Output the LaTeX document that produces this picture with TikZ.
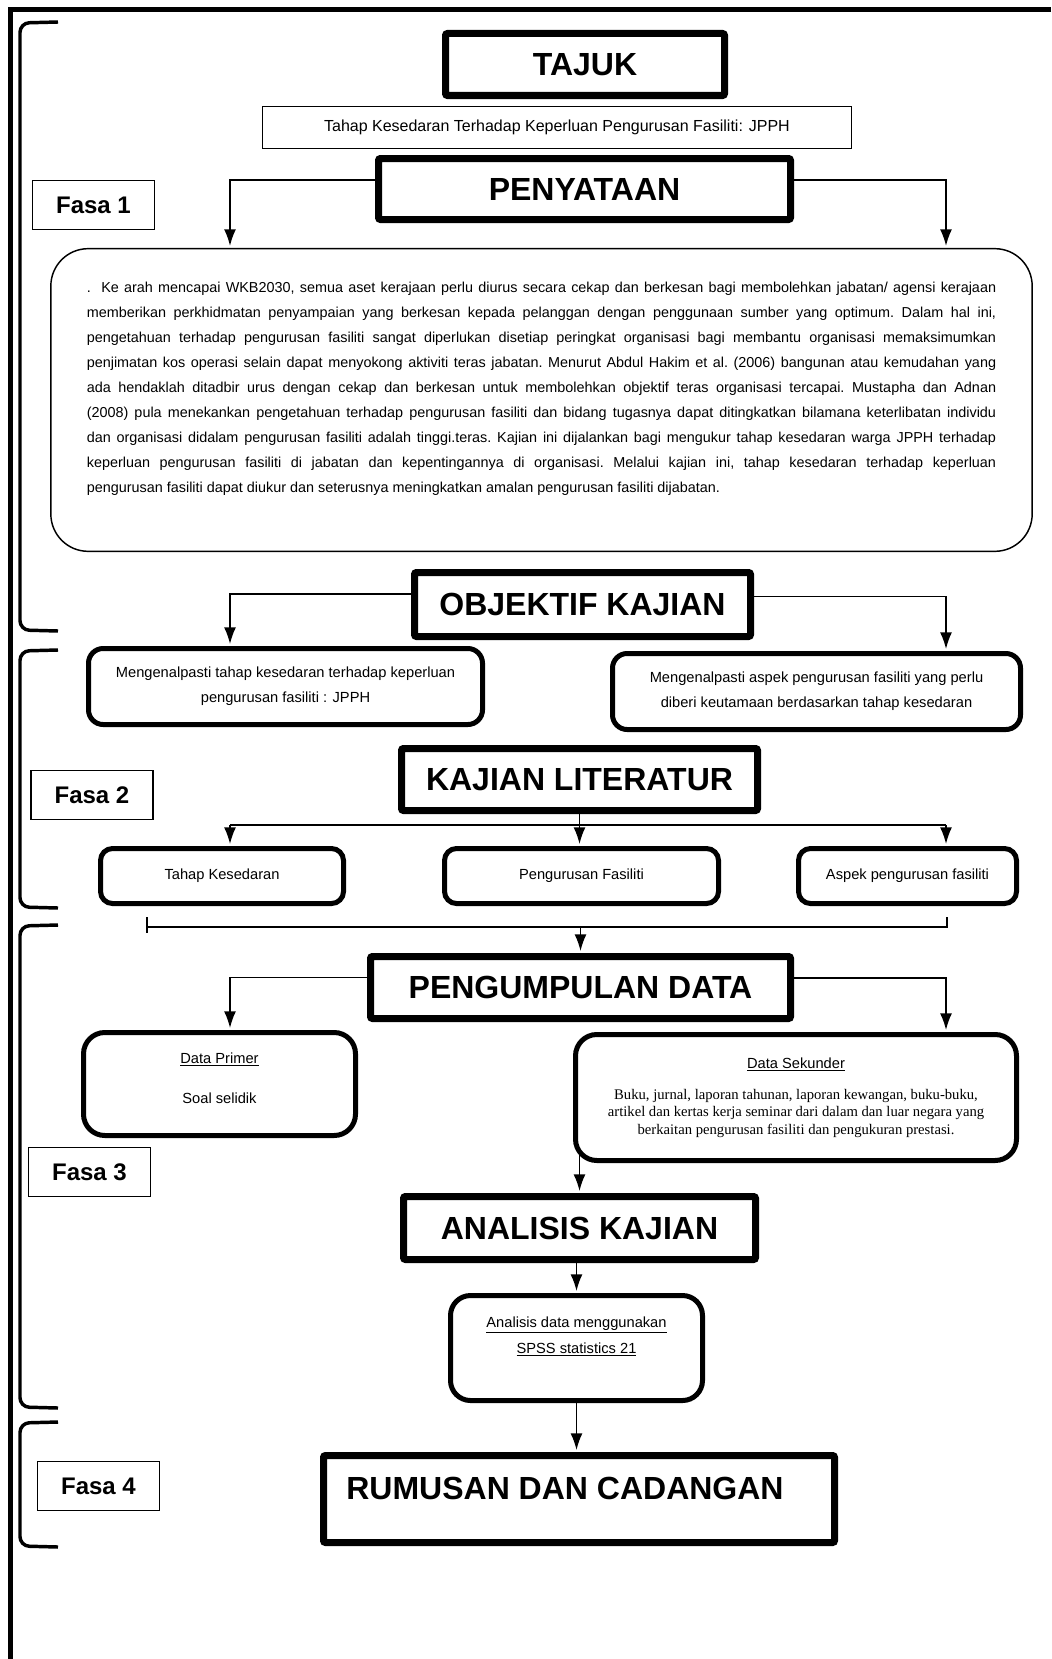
\documentclass[tikz,border=0pt]{standalone}
\usepackage{fontspec}
\setmainfont{Liberation Sans}
\newfontfamily\timesfont{Liberation Serif}
\usetikzlibrary{arrows.meta}

\tikzset{
  headbox/.style={rectangle, draw, line width=5.25pt, rounded corners=1.5pt, fill=white, inner sep=0pt,
    font=\bfseries\fontsize{24}{28}\selectfont},
  roundbox/.style={rectangle, draw, line width=3.75pt, rounded corners=11pt, fill=white, inner sep=0pt,
    align=center, font=\fontsize{11}{18.75}\selectfont},
  fasabox/.style={rectangle, draw, line width=0.9pt, fill=white, inner sep=0pt,
    minimum width=91.5pt, minimum height=36.75pt, font=\bfseries\fontsize{18}{22}\selectfont},
  conn/.style={line width=1.2pt},
  arr/.style={conn, -{Latex[length=12.5pt,width=9pt]}, shorten >=1.5pt},
  frameline/.style={line width=3.75pt},
  bracketline/.style={line width=2.6pt, rounded corners=7pt},
}

\begin{document}
\begin{tikzpicture}[x=0.75pt, y=-0.75pt]
    \useasboundingbox (0,0) rectangle (1051,1659);

    % page frame and phase brackets
    \draw[frameline] (1051,10) -- (10,10) -- (10,1659);
    \draw[bracketline] (58,22) -- (20,23) -- (20,630) -- (58,631);
    \draw[bracketline] (58,650) -- (20,651) -- (20,907) -- (58,908);
    \draw[bracketline] (58,925) -- (20,926) -- (20,1407) -- (58,1408);
    \draw[bracketline] (58,1422) -- (20,1423) -- (20,1546) -- (58,1547);

    \coordinate (lanel) at (230,0);
    \coordinate (laner) at (946,0);

    % Fasa 1
    \node[headbox, minimum width=209.25pt, minimum height=46.5pt] (tajuk) at (585,64.5) {TAJUK};
    \node[rectangle, draw, line width=0.9pt, inner sep=0pt, minimum width=441.75pt, minimum height=31.5pt,
        font=\fontsize{12}{14}\selectfont] (tajukteks) at (557,127.5) {Tahap Kesedaran Terhadap Keperluan Pengurusan Fasiliti: JPPH};
    \node[headbox, minimum width=309pt, minimum height=45.75pt] (penyataan) at (584.5,189) {PENYATAAN};
    \node[fasabox] (fasa1) at (93.5,205) {Fasa 1};
    \node[rectangle, draw, line width=1.1pt, rounded corners=28pt, inner sep=0pt, minimum width=736pt, minimum height=227pt,
        text width=682pt, align=justify, font=\fontsize{10.8}{18.75}\selectfont] (intro) at (541.5,400)
        {\frenchspacing\hyphenpenalty=10000 \exhyphenpenalty=10000 \mbox{.}\ \ Ke arah mencapai WKB2030, semua aset kerajaan perlu diurus secara cekap dan berkesan bagi membolehkan jabatan/ agensi kerajaan\linebreak
        memberikan perkhidmatan penyampaian yang berkesan kepada pelanggan dengan penggunaan sumber yang optimum. Dalam hal ini,\linebreak
        pengetahuan terhadap pengurusan fasiliti sangat diperlukan disetiap peringkat organisasi bagi membantu organisasi memaksimumkan\linebreak
        penjimatan kos operasi selain dapat menyokong aktiviti teras jabatan. Menurut Abdul Hakim et al. (2006) bangunan atau kemudahan yang\linebreak
        ada hendaklah ditadbir urus dengan cekap dan berkesan untuk membolehkan objektif teras organisasi tercapai. Mustapha dan Adnan\linebreak
        (2008) pula menekankan pengetahuan terhadap pengurusan fasiliti dan bidang tugasnya dapat ditingkatkan bilamana keterlibatan individu\linebreak
        dan organisasi didalam pengurusan fasiliti adalah tinggi.teras. Kajian ini dijalankan bagi mengukur tahap kesedaran warga JPPH terhadap\linebreak
        keperluan pengurusan fasiliti di jabatan dan kepentingannya di organisasi. Melalui kajian ini, tahap kesedaran terhadap keperluan\linebreak
        pengurusan fasiliti dapat diukur dan seterusnya meningkatkan amalan pengurusan fasiliti dijabatan.\par\mbox{}};

    \node[headbox, minimum width=252pt, minimum height=48pt] (objektif) at (582.5,604.5) {OBJEKTIF KAJIAN};

    % Fasa 2
    \node[roundbox, minimum width=295.5pt, minimum height=57pt] (obj1) at (285.5,686.5)
        {Mengenalpasti tahap kesedaran terhadap keperluan\\pengurusan fasiliti : JPPH};
    \node[roundbox, minimum width=306pt, minimum height=57pt] (obj2) at (816.5,691.5)
        {Mengenalpasti aspek pengurusan fasiliti yang perlu\\diberi keutamaan berdasarkan tahap kesedaran};
    \node[headbox, minimum width=267pt, minimum height=46.5pt] (kajianlit) at (579.5,779.5) {KAJIAN LITERATUR};
    \node[fasabox] (fasa2) at (92,795) {Fasa 2};
    \node[roundbox, rounded corners=9pt, minimum width=182.25pt, minimum height=41.25pt] (lit1) at (222,876) {Tahap Kesedaran};
    \node[roundbox, rounded corners=9pt, minimum width=205.5pt, minimum height=41.25pt] (lit2) at (581.5,876) {Pengurusan Fasiliti};
    \node[roundbox, rounded corners=9pt, minimum width=163.5pt, minimum height=41.25pt] (lit3) at (907.5,876) {Aspek pengurusan fasiliti};

    % Fasa 3
    \node[headbox, minimum width=315pt, minimum height=46.5pt] (pengumpulan) at (580.5,987.5) {PENGUMPULAN DATA};
    \node[roundbox, rounded corners=16pt, minimum width=204pt, minimum height=77.25pt] (primer) at (219.5,1084)
        {\underline{Data Primer}\\[11.25pt]Soal selidik\\[-10pt]\mbox{}};
    \node[roundbox, rounded corners=16pt, minimum width=330.75pt, minimum height=94.5pt,
        font=\fontsize{11}{13.1}\selectfont] (sekunder) at (796,1097.5)
        {\underline{Data Sekunder}\\[10.15pt]
        \timesfont Buku, jurnal, laporan tahunan, laporan kewangan, buku-buku,\\
        \timesfont artikel dan kertas kerja seminar dari dalam dan luar negara yang\\
        \timesfont berkaitan pengurusan fasiliti dan pengukuran prestasi.};
    \node[fasabox] (fasa3) at (89.5,1172) {Fasa 3};
    \node[headbox, minimum width=264pt, minimum height=47.25pt] (analisis) at (579.5,1228) {ANALISIS KAJIAN};
    \node[roundbox, rounded corners=15pt, minimum width=189pt, minimum height=78.75pt,
        font=\fontsize{11}{19.5}\selectfont] (spss) at (576.5,1348)
        {\underline{Analisis data menggunakan}\\\underline{SPSS statistics 21}\\\mbox{}};

    % Fasa 4
    \node[fasabox] (fasa4) at (98.5,1486) {Fasa 4};
    \node[headbox, minimum width=383.25pt, minimum height=65.25pt] (rumusan) at (579,1499) {};
    \node[font=\bfseries\fontsize{24}{28}\selectfont, inner sep=0pt] (rumusanteks) at (565,1488) {RUMUSAN DAN CADANGAN};

    % connectors
    \draw[arr] ([yshift=6.75pt]penyataan.west) -| (lanel |- intro.north);
    \draw[arr] ([yshift=6.75pt]penyataan.east) -| (laner |- intro.north);
    \draw[arr] ([yshift=8pt]objektif.west) -| (lanel |- obj1.north);
    \draw[arr] ([yshift=6pt]objektif.east) -| (laner |- obj2.north);

    \coordinate (litbus) at (580,825);
    \draw[arr] (kajianlit.south) -- (kajianlit.south |- lit2.north);
    \draw[conn] (litbus -| lanel) -- (litbus -| laner);
    \draw[arr] (litbus -| lanel) -- (lanel |- lit1.north);
    \draw[arr] (litbus -| laner) -- (laner |- lit3.north);

    \coordinate (tickl) at (147,927);
    \coordinate (tickr) at (947,927);
    \draw[conn] ([yshift=7.5pt]tickl) -- ([yshift=-4.5pt]tickl);
    \draw[conn] (tickl) -- (tickr) -- ([yshift=7.5pt]tickr);
    \draw[arr] (pengumpulan.north |- tickl) -- (pengumpulan.north);

    \draw[arr] ([yshift=7.5pt]pengumpulan.west) -| (lanel |- primer.north);
    \draw[arr] ([yshift=7pt]pengumpulan.east) -| (laner |- sekunder.north);
    \draw[arr] ([yshift=6pt]analisis.north |- sekunder.south) -- (analisis.north);
    \draw[arr] (spss.north |- analisis.south) -- (spss.north);
    \draw[arr] (spss.south) -- (spss.south |- rumusan.north);
\end{tikzpicture}
\end{document}
